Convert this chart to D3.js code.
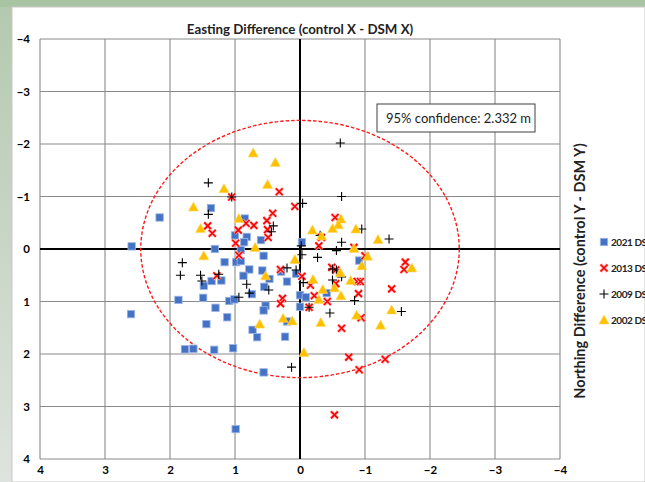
<!DOCTYPE html>
<html><head><meta charset="utf-8">
<script src="https://cdn.jsdelivr.net/npm/d3@7"></script>
<style>
html,body{margin:0;padding:0;overflow:hidden;background:#fff;}
text{font-family:Lato,"Open Sans",sans-serif;}
</style></head>
<body><svg id="c" width="645" height="482"></svg>
<script>
// ---- data ----
const seriesNames = ["2021 DSM", "2013 DSM", "2009 DSM", "2002 DSM"];
const tickValues = [4, 3, 2, 1, 0, -1, -2, -3, -4];
const confidenceLabel = "95% confidence: 2.332 m";
const confidenceRadius = 2.45;
const xTitle = "Easting Difference (control X - DSM X)";
const yTitle = "Northing Difference (control Y - DSM Y)";

const dsm2021 = [
 [2.59,-0.05],[2.16,-0.6],[1.37,-0.78],[0.85,-0.58],[0.82,-0.23],[1.0,-0.26],[0.86,-0.13],[0.6,-0.17],
 [1.31,0.0],[0.91,0.02],[0.56,0.13],[-0.03,-0.13],[1.16,0.25],[0.98,0.25],[0.91,0.23],[0.78,0.39],
 [0.58,0.41],[0.87,0.51],[0.47,0.57],[0.29,0.43],[0.2,0.62],[0.06,0.47],[1.36,0.61],[1.21,0.6],
 [1.48,0.7],[0.55,0.72],[0.74,0.86],[1.49,0.93],[1.87,0.97],[1.09,0.99],[1.01,0.96],[0.53,1.08],
 [0.56,1.17],[0.0,0.88],[0.0,1.1],[1.3,1.12],[1.12,1.3],[1.44,1.43],[2.6,1.24],[0.73,1.54],
 [0.66,1.68],[0.2,1.38],[0.23,1.67],[1.77,1.91],[1.64,1.9],[1.32,1.92],[1.03,1.89],[0.56,2.35],
 [0.99,3.43],[-0.91,0.22],[-0.09,0.92],[-0.41,0.84]
];
const dsm2013 = [
 [1.05,-0.99],[0.32,-1.09],[0.08,-0.81],[0.42,-0.68],[0.51,-0.54],[0.71,-0.45],[0.83,-0.49],[1.42,-0.44],
 [1.35,-0.3],[0.95,-0.36],[0.5,-0.37],[0.49,-0.22],[0.99,-0.11],[0.94,0.12],[1.28,0.51],[0.3,0.39],
 [0.27,0.94],[0.3,1.04],[-0.03,0.52],[-1.62,0.25],[-1.6,0.39],[-0.49,0.35],[-0.55,0.4],[-0.16,0.69],
 [-0.55,0.66],[-0.88,0.62],[-0.93,0.62],[-0.9,0.85],[-1.41,0.76],[-0.22,0.89],[-0.42,1.0],[-0.14,1.11],
 [-0.94,1.31],[-0.64,1.51],[-0.75,2.06],[-1.31,2.1],[-0.91,2.3],[-0.53,3.16],[-0.54,-0.6],[-0.33,-0.22],
 [-0.29,-0.06],[-0.83,-0.03],[-1.0,0.13]
];
const dsm2009 = [
 [1.41,-1.26],[1.05,-0.99],[1.41,-0.66],[0.41,-0.44],[0.44,-0.33],[-0.04,-0.87],[-0.02,-0.06],[-0.03,0.11],
 [-0.62,-2.02],[-0.64,-1.0],[-0.95,-0.38],[-1.37,-0.19],[-0.31,-0.26],[-0.64,-0.13],[-0.56,0.03],[-0.27,0.16],
 [1.81,0.26],[1.84,0.5],[1.53,0.5],[1.51,0.61],[1.25,0.48],[0.82,0.67],[0.48,0.78],[0.78,0.84],
 [0.94,0.92],[0.2,0.36],[0.06,0.4],[-0.05,0.64],[0.13,2.25],[-0.5,0.38],[-0.56,0.4],[-0.64,0.53],
 [-0.5,0.59],[-0.84,0.98],[-0.46,1.22],[-1.56,1.19],[-0.14,1.11]
];
const dsm2002 = [
 [0.72,-1.83],[0.38,-1.65],[1.17,-1.15],[0.5,-1.23],[1.64,-0.8],[0.94,-0.58],[1.53,-0.39],[0.69,-0.03],
 [1.48,0.13],[0.08,0.2],[-0.63,-0.57],[-0.59,-0.46],[-0.5,-0.39],[-0.19,-0.36],[-0.33,-0.25],[-0.86,-0.38],
 [-1.2,-0.18],[-0.83,-0.01],[-1.04,0.14],[-1.72,0.36],[-0.62,0.45],[-0.95,0.32],[-0.2,0.58],[-0.78,0.6],
 [-0.53,0.74],[-0.35,0.77],[-0.63,0.89],[-0.29,0.96],[-1.41,1.16],[-0.87,1.26],[-0.32,1.4],[-1.24,1.45],
 [-0.06,1.97],[0.53,0.51],[0.26,1.32],[0.12,1.37],[0.62,1.43]
];

// ---- layout ----
const W = 645, H = 482;
const P = {l:40, r:560, t:39, b:459};
const svg = d3.select("#c");

// frame background
const defs = svg.append("defs");
const lg = defs.append("linearGradient").attr("id","lg").attr("x1",0).attr("y1",0).attr("x2",0).attr("y2",1);
lg.append("stop").attr("offset","0%").attr("stop-color","#b3c9ae");
lg.append("stop").attr("offset","100%").attr("stop-color","#dfe3df");
svg.append("rect").attr("width",W).attr("height",H).attr("fill","url(#lg)");
svg.append("rect").attr("x",0).attr("y",0).attr("width",W).attr("height",7).attr("fill","#a9c4a3");
svg.append("rect").attr("x",12).attr("y",7).attr("width",W-12).attr("height",H-7)
  .attr("fill","#fff").attr("stroke","#c8c8c8").attr("stroke-width",1);

const x = d3.scaleLinear().domain([4,-4]).range([P.l,P.r]);
const y = d3.scaleLinear().domain([-4,4]).range([P.t,P.b]);

// grid
const g = svg.append("g");
g.selectAll(".vg").data(tickValues).join("line")
  .attr("x1",d=>x(d)).attr("x2",d=>x(d)).attr("y1",P.t).attr("y2",P.b)
  .attr("stroke","#8a8a8a").attr("stroke-width",1.1);
g.selectAll(".hg").data(tickValues).join("line")
  .attr("y1",d=>y(d)).attr("y2",d=>y(d)).attr("x1",P.l).attr("x2",P.r)
  .attr("stroke","#8a8a8a").attr("stroke-width",1.1);
// zero axes
g.append("line").attr("x1",x(0)).attr("x2",x(0)).attr("y1",P.t).attr("y2",P.b)
  .attr("stroke","#000").attr("stroke-width",2);
g.append("line").attr("y1",y(0)).attr("y2",y(0)).attr("x1",P.l).attr("x2",P.r)
  .attr("stroke","#000").attr("stroke-width",2);

// axes labels
const ax = svg.append("g").attr("transform",`translate(0,${P.b})`)
  .call(d3.axisBottom(x).tickValues(tickValues).tickSize(0).tickPadding(7).tickFormat(d3.format("d")));
ax.select(".domain").remove();
ax.selectAll("text").attr("font-family","Lato, sans-serif").attr("font-size",11.5).attr("font-weight","bold").attr("fill","#000");
const ay = svg.append("g").attr("transform",`translate(${P.l},0)`)
  .call(d3.axisLeft(y).tickValues(tickValues).tickSize(0).tickPadding(10).tickFormat(d3.format("d")));
ay.select(".domain").remove();
ay.selectAll("text").attr("font-family","Lato, sans-serif").attr("font-size",11.5).attr("font-weight","bold").attr("fill","#000");

// titles
svg.append("text").attr("x",x(0)).attr("y",34).attr("text-anchor","middle")
  .attr("font-size",13.3).attr("font-weight","bold").attr("fill","#222").text(xTitle);
svg.append("text").attr("transform",`translate(585,${271}) rotate(-90)`).attr("text-anchor","middle")
  .attr("font-size",14.5).attr("font-weight","bold").attr("fill","#222").text(yTitle);

// confidence ellipse
svg.append("ellipse").attr("cx",x(0)).attr("cy",y(0))
  .attr("rx",Math.abs(x(confidenceRadius)-x(0))).attr("ry",Math.abs(y(confidenceRadius)-y(0)))
  .attr("fill","none").attr("stroke","#ff1a1a").attr("stroke-width",1.4).attr("stroke-dasharray","3.5,2");

// markers
function square(sel, cx, cy){
  sel.append("rect").attr("x",cx-3.7).attr("y",cy-3.7).attr("width",7.4).attr("height",7.4)
    .attr("fill","#4472c4").attr("stroke","#9db6e3").attr("stroke-width",0.8);
}
function cross(sel, cx, cy){
  const r = 3.5;
  sel.append("path").attr("d",`M${cx-r},${cy-r}L${cx+r},${cy+r}M${cx-r},${cy+r}L${cx+r},${cy-r}`)
    .attr("stroke","#ffb3b3").attr("stroke-width",3.2).attr("fill","none");
  sel.append("path").attr("d",`M${cx-r},${cy-r}L${cx+r},${cy+r}M${cx-r},${cy+r}L${cx+r},${cy-r}`)
    .attr("stroke","#ff0000").attr("stroke-width",1.6).attr("fill","none");
}
function plus(sel, cx, cy){
  const r = 4.5;
  sel.append("path").attr("d",`M${cx-r},${cy}L${cx+r},${cy}M${cx},${cy-r}L${cx},${cy+r}`)
    .attr("stroke","#000").attr("stroke-width",1.1).attr("fill","none");
}
function tri(sel, cx, cy){
  const s = 5;
  sel.append("path").attr("d",`M${cx},${cy-s}L${cx+s},${cy+s*0.8}L${cx-s},${cy+s*0.8}Z`)
    .attr("fill","#ffc000").attr("stroke","#ffd966").attr("stroke-width",0.6);
}
const series = [
  {data:dsm2021, draw:square},
  {data:dsm2013, draw:cross},
  {data:dsm2009, draw:plus},
  {data:dsm2002, draw:tri}
];
const pts = svg.append("g");
series.forEach(s=>{
  s.data.forEach(d=>s.draw(pts, x(d[0]), y(d[1])));
});

// confidence label box
const bx = svg.append("g");
bx.append("rect").attr("x",377).attr("y",104).attr("width",158).attr("height",28)
  .attr("fill","#fff").attr("stroke","#404040").attr("stroke-width",1);
bx.append("text").attr("x",386).attr("y",123).attr("font-size",13).attr("fill","#222").text(confidenceLabel);

// legend
const lgd = svg.append("g");
seriesNames.forEach((n,i)=>{
  const cy = 242 + i*26;
  series[i].draw(lgd, 604, cy);
  lgd.append("text").attr("x",611).attr("y",cy+4).attr("font-size",10).attr("font-weight","bold")
    .attr("letter-spacing","-0.45").attr("fill","#222").text(n);
});
</script></body></html>
